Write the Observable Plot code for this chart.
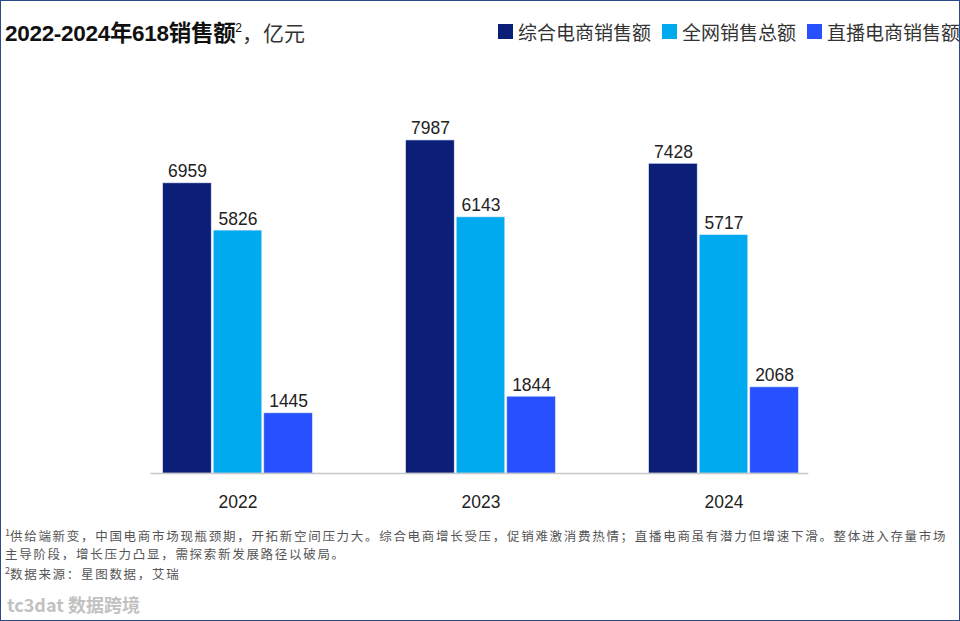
<!DOCTYPE html>
<html>
<head>
<meta charset="utf-8">
<script src="https://cdn.jsdelivr.net/npm/d3@7"></script>
<script src="https://cdn.jsdelivr.net/npm/@observablehq/plot@0.6"></script>
<style>
  html, body { margin: 0; padding: 0; background: #fff; }
  #page { position: relative; width: 960px; height: 621px; box-sizing: border-box; border: 1.5px solid #2b4a8a; overflow: hidden; font-family: "Liberation Sans", "Noto Sans CJK SC", sans-serif; }
  #title { position: absolute; left: 4px; top: 14px; font-size: 22.5px; color: #111; white-space: nowrap; }
  #title b { font-weight: bold; letter-spacing: -0.3px; }
  #title sup { font-size: 12px; vertical-align: 9px; }
  #title span { font-weight: normal; color: #333; font-size: 21px; }
  #legend { position: absolute; left: 497px; top: 17px; display: flex; align-items: center; white-space: nowrap; font-size: 19px; color: #333; font-family: "Noto Sans CJK SC", sans-serif; }
  #legend .item { display: flex; align-items: center; margin-right: 11px; }
  #legend .sw { width: 15px; height: 15px; margin-right: 5px; }
  #chart { position: absolute; left: 0; top: 50px; }
  .note { position: absolute; left: 4px; font-family: "Noto Sans CJK SC", serif; font-size: 12.5px; line-height: 18.2px; color: #555; white-space: nowrap; letter-spacing: 1.7px; }
  .note sup { font-size: 9px; vertical-align: 5px; letter-spacing: 0; line-height: 0; }
  #wm { position: absolute; left: 6px; top: 590px; font-size: 18px; color: #999; opacity: 0.6; font-weight: bold; font-family: "Noto Sans CJK SC", sans-serif; }
</style>
</head>
<body>
<div id="page">
  <div id="title"><b>2022-2024年618销售额</b><sup>2</sup><span>，亿元</span></div>
  <div id="legend"></div>
  <div id="chart"></div>
  <div class="note" style="top:526px"><sup>1</sup>供给端新变，中国电商市场现瓶颈期，开拓新空间压力大。综合电商增长受压，促销难激消费热情；直播电商虽有潜力但增速下滑。整体进入存量市场<br>主导阶段，增长压力凸显，需探索新发展路径以破局。</div>
  <div class="note" style="top:564px"><sup>2</sup>数据来源：星图数据，艾瑞</div>
  <div id="wm">tc3dat 数据跨境</div>
</div>
<script>
const years = ["2022", "2023", "2024"];
const series = ["综合电商销售额", "全网销售总额", "直播电商销售额"];
const comprehensive = [6959, 7987, 7428];
const totalOnline = [5826, 6143, 5717];
const liveStreaming = [1445, 1844, 2068];
const colors = ["#0b1f78", "#00aaef", "#2750ff"];

const valuesBySeries = [comprehensive, totalOnline, liveStreaming];
const data = [];
years.forEach((yr, i) => {
  series.forEach((s, j) => {
    data.push({year: yr, series: s, value: valuesBySeries[j][i]});
  });
});

// legend
const legend = document.getElementById("legend");
series.forEach((s, j) => {
  const item = document.createElement("div");
  item.className = "item";
  item.innerHTML = `<div class="sw" style="background:${colors[j]}"></div><div>${s}</div>`;
  legend.appendChild(item);
});

const baseRows = years.map(y => ({year: y, v: 0}));
const insets = [[-12, -47], [-47, -47], [-47, -10]];

const chart = Plot.plot({
  width: 960,
  height: 470,
  marginLeft: 162,
  marginRight: 161,
  marginTop: 88.6,
  marginBottom: 47,
  style: {fontFamily: "'Liberation Sans', 'Noto Sans CJK SC', sans-serif", background: "transparent"},
  fx: {domain: years, paddingInner: 0.384, paddingOuter: 0, round: false, label: null, axis: "bottom", tickSize: 0, tickPadding: 22, fontSize: 17},
  x: {domain: series, paddingInner: 0.04, paddingOuter: 0, round: false, axis: null},
  y: {domain: [0, 8000], axis: null},
  color: {domain: series, range: colors},
  marks: [
    Plot.barY(data, {fx: "year", x: "series", y: "value", fill: "series", stroke: "#dfe8f5", strokeWidth: 0.6}),
    ...years.map((yr, i) => Plot.ruleY(baseRows.filter(d => d.year === yr), {fx: "year", y: "v", stroke: "#c8c8c8", strokeWidth: 1.5, insetLeft: insets[i][0], insetRight: insets[i][1]})),
    Plot.text(data, {fx: "year", x: "series", y: "value", text: d => String(d.value), lineAnchor: "bottom", dy: -6, fontSize: 17.5, fill: "#222"})
  ]
});
chart.querySelectorAll("g[aria-label^='fx-axis'] text").forEach(t => { t.setAttribute("font-size", "17.5"); t.setAttribute("fill", "#222"); });
document.getElementById("chart").appendChild(chart);
</script>
</body>
</html>
